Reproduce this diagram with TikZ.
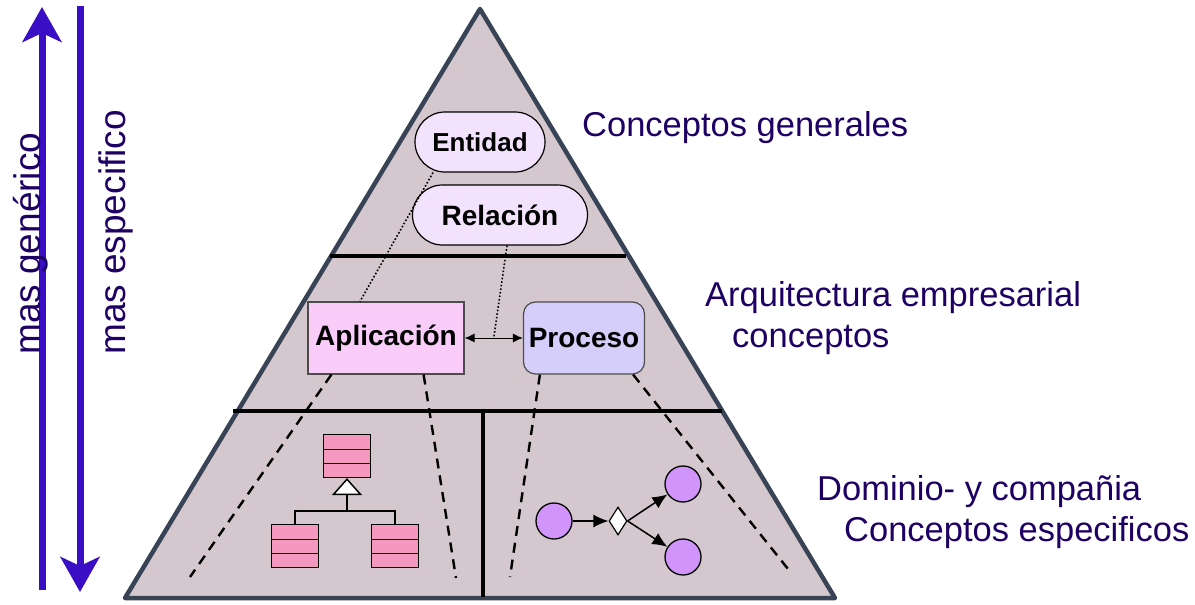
\documentclass[tikz,border=0pt]{standalone}
\usepackage{fontspec}
\setmainfont{Liberation Sans}
\usepackage{tikz}
\usetikzlibrary{arrows.meta,shapes.geometric,shapes.misc}

\definecolor{pyrfill}{RGB}{212,200,206}
\definecolor{pyredge}{RGB}{56,68,86}
\definecolor{concfill}{RGB}{242,226,252}
\definecolor{appfill}{RGB}{250,204,250}
\definecolor{procfill}{RGB}{214,206,250}
\definecolor{classfill}{RGB}{244,152,192}
\definecolor{actfill}{RGB}{208,148,250}
\definecolor{labelblue}{RGB}{30,0,100}
\definecolor{axisblue}{RGB}{58,14,196}

\begin{document}
\begin{tikzpicture}[x=1pt,y=-1pt,
    pyramid/.style={draw=pyredge,fill=pyrfill,line width=4.5pt,line join=round},
    band/.style={line width=4.5pt},
    concept/.style={rounded rectangle,draw,fill=concfill,line width=1.2pt,inner sep=0pt,
        minimum height=60pt,font=\fontsize{28}{30}\selectfont\bfseries},
    block/.style={draw=black!70,line width=1.2pt,inner sep=0pt,minimum height=72pt,
        font=\fontsize{28}{30}\selectfont\bfseries},
    dashline/.style={line width=2.4pt,dash pattern=on 10pt off 7pt},
    dotline/.style={line width=1.6pt,dotted},
    klass/.style={draw,fill=classfill,line width=1.2pt,minimum width=47pt,minimum height=43pt,
        inner sep=0pt,path picture={
        \draw[line width=1pt] (path picture bounding box.west) ++(0,-7) -- ++(50,0)
              (path picture bounding box.west) ++(0,7) -- ++(50,0);}},
    act/.style={circle,draw,fill=actfill,line width=1.3pt,minimum size=36pt,inner sep=0pt},
    decision/.style={diamond,draw,fill=white,line width=1.2pt,minimum width=18pt,
        minimum height=28pt,inner sep=0pt},
    flow/.style={line width=1.5pt,-{Latex[length=15pt,width=13pt]}},
    axis/.style={line width=7pt,draw=axisblue,-{Stealth[length=35pt,width=39pt,inset=9pt]}},
    axlabel/.style={rotate=90,anchor=base west,inner sep=0pt,text=labelblue,
        font=\fontsize{37}{40}\selectfont},
    rlabel/.style={anchor=west,align=left,inner sep=0pt,text=labelblue,
        font=\fontsize{34.5}{41}\selectfont}]
    \useasboundingbox (0,0) rectangle (1195,605);

    % pyramid
    \coordinate (apex) at (480,9);
    \coordinate (bl) at (125,598);
    \coordinate (br) at (835,598);
    \draw[pyramid] (apex) -- (br) -- (bl) -- cycle;

    \coordinate (l1a) at (330,256);
    \coordinate (l1b) at (626,256);
    \coordinate (l2a) at (233,411);
    \coordinate (l2b) at (722,411);
    \coordinate (vt) at (483,411);
    \coordinate (vb) at (483,597);
    \draw[band] (l1a) -- (l1b);
    \draw[band] (l2a) -- (l2b);
    \draw[band] (vt) -- (vb);

    % concepts
    \node[concept,minimum width=130pt] (ent) at (480,142) {\fontsize{26}{28}\selectfont Entidad};
    \node[concept,minimum width=175pt] (rel) at (500,215) {Relación};
    \node[block,fill=appfill,minimum width=156pt] (app) at (386,338) {Aplicación};
    \node[block,fill=procfill,rounded corners=12pt,minimum width=121pt] (proc) at (584,338) {Proceso};

    \draw[line width=1pt,{Latex[length=10pt,width=9pt]}-{Latex[length=10pt,width=9pt]}]
        (app.east) -- coordinate (link) (proc.west);
    \draw[dotline] ([xshift=-47pt]ent.south) -- ([xshift=-26pt]app.north);
    \draw[dotline] ([xshift=7pt]rel.south) -- (link);

    \coordinate (d1) at (190,577);
    \coordinate (d2) at (456,578);
    \coordinate (d3) at (510,577);
    \coordinate (d4) at (792,574);
    \draw[dashline] ([xshift=24pt]app.south west) -- (d1);
    \draw[dashline] ([xshift=-41pt]app.south east) -- (d2);
    \draw[dashline] ([xshift=17pt]proc.south west) -- (d3);
    \draw[dashline] ([xshift=-12pt]proc.south east) -- (d4);

    % class diagram
    \node[klass] (ktop) at (347,456) {};
    \node[klass] (kl) at (295,546) {};
    \node[klass] (kr) at (395,546) {};
    \coordinate (fork) at (347,511);
    \draw[line width=1.5pt] (kl.north) |- (fork) -| (kr.north);
    \draw[line width=1.5pt,-{Triangle[length=17pt,width=30pt,fill=white]}] (fork) -- (ktop.south);

    % activity
    \node[act] (start) at (554,521) {};
    \node[decision] (dec) at (618,521) {};
    \node[act] (up) at (683,484) {};
    \node[act] (down) at (683,557) {};
    \draw[flow] (start) -- (dec);
    \draw[flow] (dec.east) -- (up);
    \draw[flow] (dec.east) -- (down);

    % labels
    \node[rlabel] (gen) at (582,128) {Conceptos generales};
    \node[rlabel] (arq) at (705,318) {Arquitectura empresarial\\\hspace*{27pt}conceptos};
    \node[rlabel] (dom) at (817,512) {Dominio- y compañia\\\hspace*{27pt}Conceptos especificos};

    % axes
    \coordinate (genbot) at (42,590);
    \coordinate (gentop) at (42,7);
    \coordinate (esptop) at (80,6);
    \coordinate (espbot) at (80,592);
    \draw[axis] (genbot) -- (gentop);
    \draw[axis] (esptop) -- (espbot);
    \node[axlabel] (more) at (40,355) {mas genérico};
    \node[axlabel] (less) at (125,355) {mas especifico};
\end{tikzpicture}
\end{document}
